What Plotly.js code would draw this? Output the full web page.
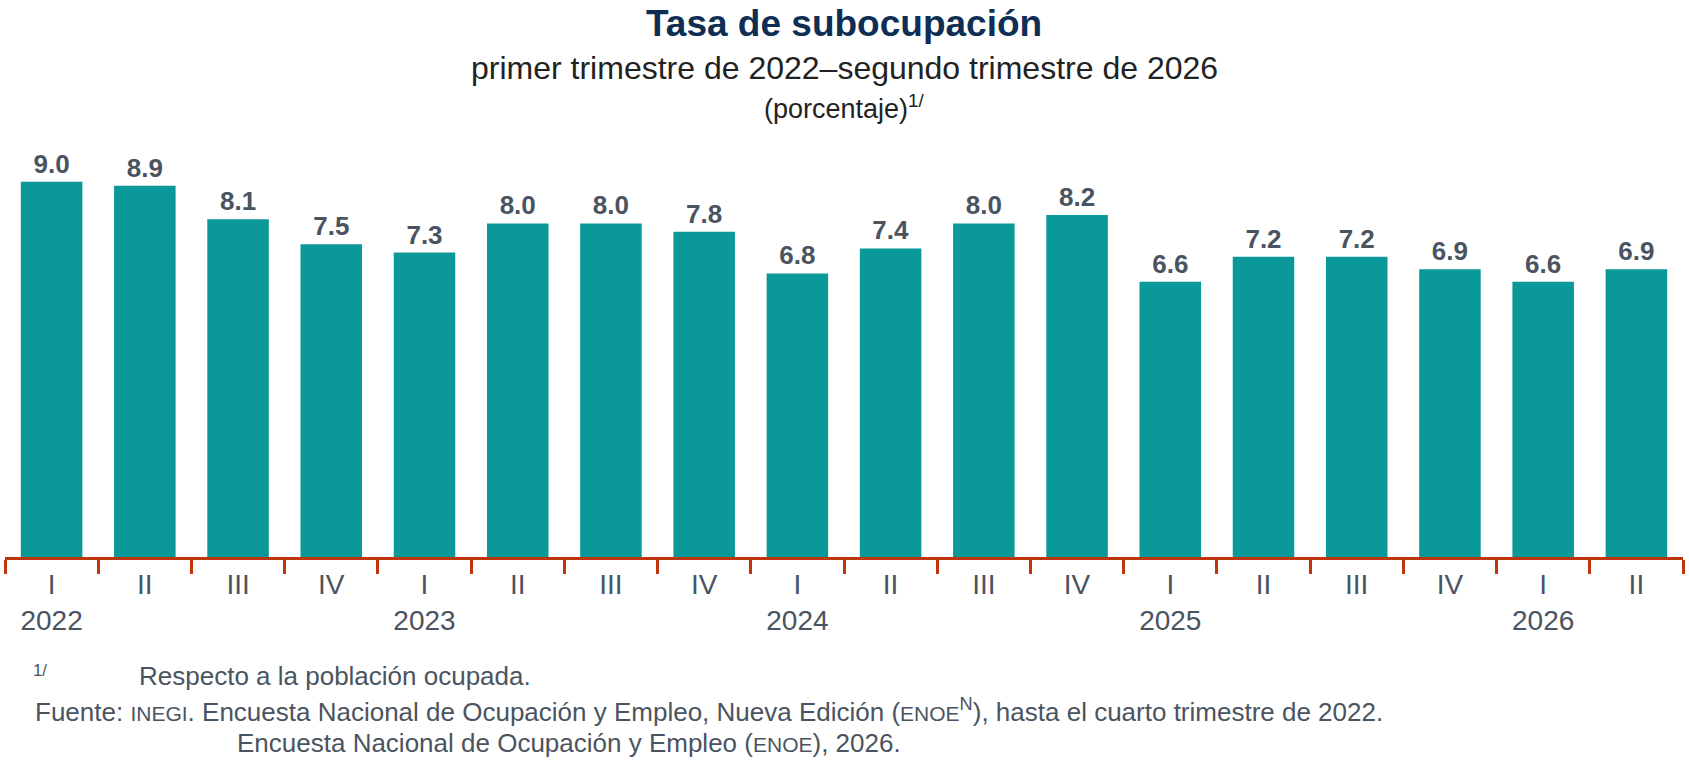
<!DOCTYPE html>
<html lang="es">
<head>
<meta charset="UTF-8">
<script src="https://cdn.plot.ly/plotly-3.0.1.min.js"></script>
<style>
  body { margin: 0; background: #fff; }
  #chart { width: 1689px; height: 765px; }
</style>
</head>
<body>
<div id="chart"></div>
<script>
    // Data
    var quarters = ['2022-I','2022-II','2022-III','2022-IV','2023-I','2023-II','2023-III','2023-IV',
                    '2024-I','2024-II','2024-III','2024-IV','2025-I','2025-II','2025-III','2025-IV',
                    '2026-I','2026-II'];
    var quarterLabels = ['I','II','III','IV','I','II','III','IV','I','II','III','IV','I','II','III','IV','I','II'];
    var yearLabels = ['2022','','','','2023','','','','2024','','','','2025','','','','2026',''];
    var rates = [9.0, 8.9, 8.1, 7.5, 7.3, 8.0, 8.0, 7.8, 6.8, 7.4, 8.0, 8.2, 6.6, 7.2, 7.2, 6.9, 6.6, 6.9];

    var tickText = quarterLabels.map(function (q, i) {
        return q + '<br>' + (yearLabels[i] || ' ');
    });

    var trace = {
        type: 'bar',
        x: quarters,
        y: rates,
        marker: { color: '#0A9899' },
        text: rates.map(function (v) { return '<b>' + v.toFixed(1) + '</b>'; }),
        textposition: 'outside',
        textfont: { family: 'Liberation Sans, Arial', size: 26, color: '#4A5460' },
        cliponaxis: false,
        hoverinfo: 'skip'
    };

    var grey = '#4A5460';
    var layout = {
        width: 1689, height: 765,
        margin: { l: 5, r: 6, t: 140, b: 208 },
        paper_bgcolor: '#fff', plot_bgcolor: '#fff',
        font: { family: 'Liberation Sans, Arial', color: grey },
        showlegend: false,
        bargap: 0.34,
        xaxis: {
            type: 'category',
            tickmode: 'array', tickvals: quarters, ticktext: tickText,
            tickfont: { size: 28, color: grey },
            showline: true, linecolor: '#C0360C', linewidth: 3,
            ticks: 'outside', tickson: 'boundaries', ticklen: 14, tickwidth: 3, tickcolor: '#C0360C',
            showgrid: false, zeroline: false, fixedrange: true
        },
        yaxis: { range: [0, 10.0], visible: false, fixedrange: true },
        annotations: [
            { text: '<b>Tasa de subocupación</b>', xref: 'paper', yref: 'paper', x: 0.5, y: 1, yshift: 117,
              yanchor: 'middle', showarrow: false, font: { size: 37, color: '#0F2E54' } },
            { text: 'primer trimestre de 2022–segundo trimestre de 2026', xref: 'paper', yref: 'paper', x: 0.5, y: 1, yshift: 72,
              yanchor: 'middle', showarrow: false, font: { size: 32, color: '#222' } },
            { text: '(porcentaje)<sup>1/</sup>', xref: 'paper', yref: 'paper', x: 0.5, y: 1, yshift: 33,
              yanchor: 'middle', showarrow: false, font: { size: 27, color: '#222' } },
            { text: '<sup>1/</sup>', xref: 'paper', yref: 'paper', x: 0, xshift: 26, y: 0, yshift: -113,
              xanchor: 'left', yanchor: 'middle', showarrow: false, font: { size: 24, color: grey } },
            { text: 'Respecto a la población ocupada.', xref: 'paper', yref: 'paper', x: 0, xshift: 132, y: 0, yshift: -119,
              xanchor: 'left', yanchor: 'middle', showarrow: false, font: { size: 26, color: grey } },
            { text: 'Fuente: <span style="font-size:21px">INEGI</span>. Encuesta Nacional de Ocupación y Empleo, Nueva Edición (<span style="font-size:21px">ENOE</span><sup>N</sup>), hasta el cuarto trimestre de 2022.',
              xref: 'paper', yref: 'paper', x: 0, xshift: 28, y: 0, yshift: -153,
              xanchor: 'left', yanchor: 'middle', showarrow: false, font: { size: 26, color: grey } },
            { text: 'Encuesta Nacional de Ocupación y Empleo (<span style="font-size:21px">ENOE</span>), 2026.',
              xref: 'paper', yref: 'paper', x: 0, xshift: 230, y: 0, yshift: -186,
              xanchor: 'left', yanchor: 'middle', showarrow: false, font: { size: 26, color: grey } }
        ]
    };

    Plotly.newPlot('chart', [trace], layout, { displayModeBar: false, staticPlot: true });
</script>
</body>
</html>
